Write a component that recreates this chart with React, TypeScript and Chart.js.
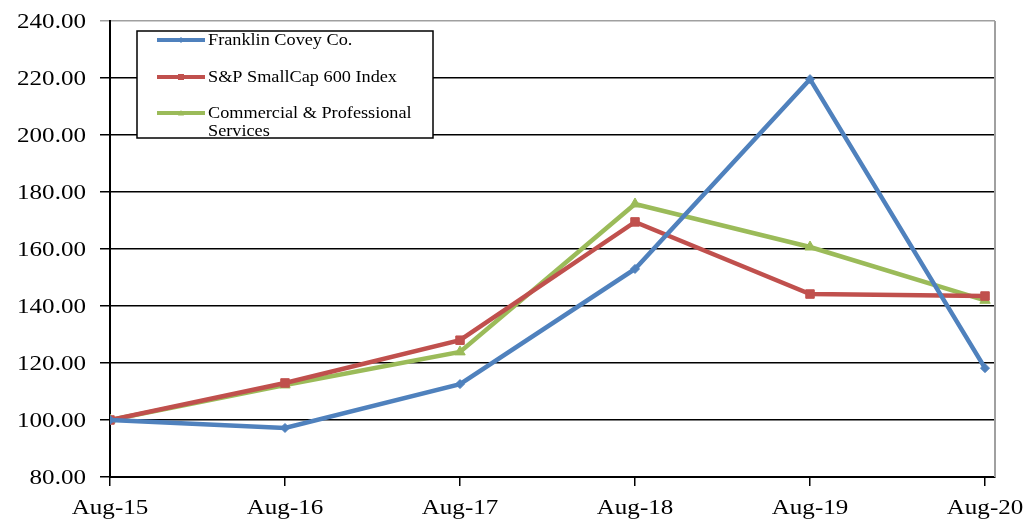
import React, { useEffect, useRef } from "react";
import { Chart, registerables } from "chart.js";

Chart.register(...registerables);

const categories = ["Aug-15", "Aug-16", "Aug-17", "Aug-18", "Aug-19", "Aug-20"];
const franklin = [100, 97.2, 112.6, 153, 219.6, 118.2];
const spSmallCap = [100, 113, 128, 169.5, 144.2, 143.5];
const commercial = [100, 112.3, 123.9, 175.8, 160.7, 142];
const seriesNames = ["Franklin Covey Co.", "S&P SmallCap 600 Index", "Commercial & Professional\nServices"];
const yTicks = [80, 100, 120, 140, 160, 180, 200, 220, 240];

const BLUE = "#4F81BD";
const RED = "#C0504D";
const GREEN = "#9BBB59";
const FONT_FAMILY = "'Liberation Serif', 'Times New Roman', serif";
const STRETCH = 1.14;

const toXY = (arr: number[]) => arr.map((v, i) => ({ x: i, y: v }));

function stretchedText(ctx: CanvasRenderingContext2D, text: string, x: number, y: number, align: CanvasTextAlign) {
  ctx.save();
  ctx.translate(x, y);
  ctx.scale(STRETCH, 1);
  ctx.textAlign = align;
  ctx.fillText(text, 0, 0);
  ctx.restore();
}

function drawMarker(ctx: CanvasRenderingContext2D, style: string, x: number, y: number, r: number) {
  ctx.beginPath();
  if (style === "rect") {
    ctx.rect(x - r, y - r, 2 * r, 2 * r);
  } else if (style === "triangle") {
    ctx.moveTo(x, y - r);
    ctx.lineTo(x + r, y + r * 0.8);
    ctx.lineTo(x - r, y + r * 0.8);
    ctx.closePath();
  } else {
    ctx.moveTo(x, y - r);
    ctx.lineTo(x + r, y);
    ctx.lineTo(x, y + r);
    ctx.lineTo(x - r, y);
    ctx.closePath();
  }
  ctx.fill();
}

const overlayPlugin = {
  id: "overlay",
  afterDraw(chart: any) {
    const ctx: CanvasRenderingContext2D = chart.ctx;
    const ca = chart.chartArea;
    const xs = chart.scales.x;
    const ys = chart.scales.y;
    ctx.save();
    // right border
    ctx.strokeStyle = "#a0a0a0";
    ctx.lineWidth = 2;
    ctx.beginPath();
    ctx.moveTo(ca.right, ca.top);
    ctx.lineTo(ca.right, ca.bottom);
    ctx.stroke();

    // axis labels
    ctx.fillStyle = "#000";
    ctx.font = `22px ${FONT_FAMILY}`;
    ctx.textBaseline = "middle";
    yTicks.forEach((v) => {
      stretchedText(ctx, v.toFixed(2), 86, ys.getPixelForValue(v) + 1, "right");
    });
    ctx.textBaseline = "alphabetic";
    categories.forEach((c, i) => {
      stretchedText(ctx, c, xs.getPixelForValue(i), 514, "center");
    });

    // legend box
    const bx = 137, by = 31, bw = 296, bh = 107;
    ctx.fillStyle = "#fff";
    ctx.fillRect(bx, by, bw, bh);
    ctx.strokeStyle = "#000";
    ctx.lineWidth = 1.5;
    ctx.strokeRect(bx, by, bw, bh);

    const colors = [BLUE, RED, GREEN];
    const styles = ["rectRot", "rect", "triangle"];
    const rows = [40, 77, 113];
    ctx.font = `16px ${FONT_FAMILY}`;
    ctx.textBaseline = "middle";
    seriesNames.forEach((name, i) => {
      const y = rows[i];
      ctx.strokeStyle = colors[i];
      ctx.lineWidth = 4;
      ctx.beginPath();
      ctx.moveTo(157, y);
      ctx.lineTo(205, y);
      ctx.stroke();
      ctx.fillStyle = colors[i];
      drawMarker(ctx, styles[i], 181, y, 3);
      ctx.fillStyle = "#000";
      name.split("\n").forEach((ln, j) => {
        stretchedText(ctx, ln, 208, y + 1 + j * 18, "left");
      });
    });
    ctx.restore();
  },
};

export default function App() {
  const ref = useRef<HTMLCanvasElement | null>(null);
  useEffect(() => {
    if (!ref.current) return;
    const mk = (label: string, data: number[], color: string, style: string, radius: number) => ({
      label,
      data: toXY(data),
      borderColor: color,
      backgroundColor: color,
      borderWidth: 4.5,
      pointStyle: style,
      pointRadius: radius,
      pointBorderWidth: 1,
      tension: 0,
    });
    const chart = new Chart(ref.current, {
      type: "line",
      data: {
        datasets: [
          mk(seriesNames[0], franklin, BLUE, "rectRot", 4.5),
          mk(seriesNames[1], spSmallCap, RED, "rect", 6),
          mk(seriesNames[2], commercial, GREEN, "triangle", 6),
        ] as any,
      },
      options: {
        animation: false,
        responsive: true,
        maintainAspectRatio: false,
        layout: { padding: { top: 21, right: 36, left: 0, bottom: 0 } },
        plugins: { legend: { display: false }, tooltip: { enabled: false } },
        scales: {
          x: {
            type: "linear",
            min: 0,
            max: 5.057,
            afterBuildTicks: (s: any) => {
              s.ticks = categories.map((_, i) => ({ value: i }));
            },
            afterFit: (s: any) => {
              s.height = 44;
              s.paddingLeft = 0;
              s.paddingRight = 0;
            },
            ticks: { display: false },
            grid: { drawOnChartArea: false, drawTicks: true, tickLength: 9, color: "#000", lineWidth: 1.5 },
            border: { color: "#000", width: 2 },
          },
          y: {
            min: 80,
            max: 240,
            afterBuildTicks: (s: any) => {
              s.ticks = yTicks.map((v) => ({ value: v }));
            },
            afterFit: (s: any) => {
              s.width = 110;
              s.paddingTop = 0;
              s.paddingBottom = 0;
            },
            ticks: { display: false },
            grid: {
              drawTicks: true,
              tickLength: 10,
              color: (c: any) => (c.tick && c.tick.value === 240 ? "#a0a0a0" : "#000"),
              lineWidth: 1.5,
            },
            border: { color: "#000", width: 2 },
          },
        },
      },
      plugins: [overlayPlugin],
    });
    return () => chart.destroy();
  }, []);
  return (
    <div style={{ position: "fixed", left: 0, top: 0, width: 1031, height: 521, background: "#fff" }}>
      <canvas ref={ref} />
    </div>
  );
}
